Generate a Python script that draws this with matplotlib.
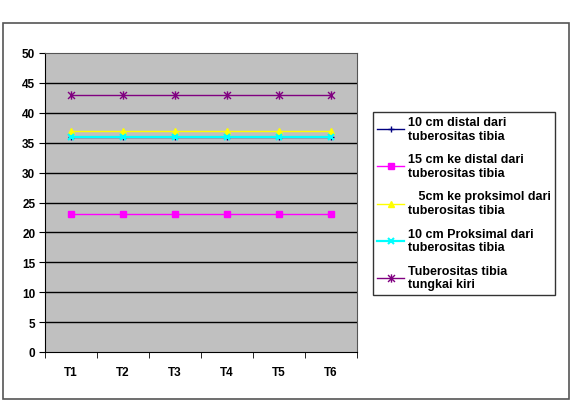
import numpy as np
import matplotlib
matplotlib.use("Agg")
import matplotlib.pyplot as plt
from matplotlib.path import Path
from matplotlib.patches import Rectangle

plt.rcParams['font.family'] = ['Liberation Sans', 'DejaVu Sans']

categories = ['T1', 'T2', 'T3', 'T4', 'T5', 'T6']
distal_10 = [36, 36, 36, 36, 36, 36]
distal_15 = [23, 23, 23, 23, 23, 23]
proksimal_5 = [37, 37, 37, 37, 37, 37]
proksimal_10 = [36, 36, 36, 36, 36, 36]
tuberositas = [43, 43, 43, 43, 43, 43]

labels = ['10 cm distal dari\ntuberositas tibia',
          '15 cm ke distal dari\ntuberositas tibia',
          '   5cm ke proksimol dari\ntuberositas tibia',
          '10 cm Proksimal dari\ntuberositas tibia',
          'Tuberositas tibia\ntungkai kiri']

# excel style star: x with a vertical bar
star = Path([(-1, -1), (1, 1), (-1, 1), (1, -1), (0, -1.2), (0, 1.2)],
            [Path.MOVETO, Path.LINETO, Path.MOVETO, Path.LINETO, Path.MOVETO, Path.LINETO])

fig = plt.figure(figsize=(5.74, 4.02), dpi=100)
fig.patches.append(Rectangle((3/574, 2/402), 566/574, 376/402, transform=fig.transFigure,
                             fill=False, edgecolor='#555555', linewidth=1.2))

ax = fig.add_axes([45/574, 49/402, 312/574, 299/402])
ax.set_facecolor('#C0C0C0')
x = np.arange(1, len(categories) + 1)

ax.plot(x, distal_10, color='#000080', marker='+', markersize=4, linewidth=1, label=labels[0], zorder=2)
ax.plot(x, distal_15, color='#FF00FF', marker='s', markersize=5, linewidth=1, label=labels[1], zorder=3)
ax.plot(x, proksimal_5, color='#FFFF00', marker='^', markersize=5, linewidth=1, label=labels[2], zorder=3)
ax.plot(x, proksimal_10, color='#00FFFF', marker='x', markersize=5, markeredgewidth=1.5,
        linewidth=1.6, label=labels[3], zorder=3)
ax.plot(x, tuberositas, color='#800080', marker=star, markersize=6, markeredgewidth=1,
        linewidth=1, label=labels[4], zorder=3)

ax.set_ylim(0, 50)
ax.set_xlim(0.5, 6.5)
ax.set_yticks(np.arange(0, 51, 5))
for yv in np.arange(5, 50, 5):
    ax.axhline(yv, color='black', linewidth=1, zorder=0.5)
ax.set_xticks(x)
ax.set_xticklabels(categories)
ax.set_xticks(np.arange(0.5, 7, 1), minor=True)
ax.tick_params(axis='x', which='major', length=0, pad=10)
ax.tick_params(axis='x', which='minor', length=4, direction='out')
ax.tick_params(axis='y', length=4, direction='out', pad=3)
for lab in ax.get_xticklabels() + ax.get_yticklabels():
    lab.set_fontsize(8.5)
    lab.set_fontweight('bold')

for side in ['top', 'right']:
    ax.spines[side].set_color('#555555')
ax.spines['left'].set_color('black')
ax.spines['bottom'].set_color('black')

leg = fig.legend(loc='upper left', bbox_to_anchor=(373/574, 1 - 113/402),
                 frameon=True, fancybox=False, edgecolor='black',
                 prop={'size': 9, 'weight': 'bold'}, handlelength=2.1,
                 labelspacing=0.9, borderpad=0.35, borderaxespad=0,
                 handletextpad=0.35)
leg.get_frame().set_linewidth(1)

fig.savefig('out.png', dpi=100)
